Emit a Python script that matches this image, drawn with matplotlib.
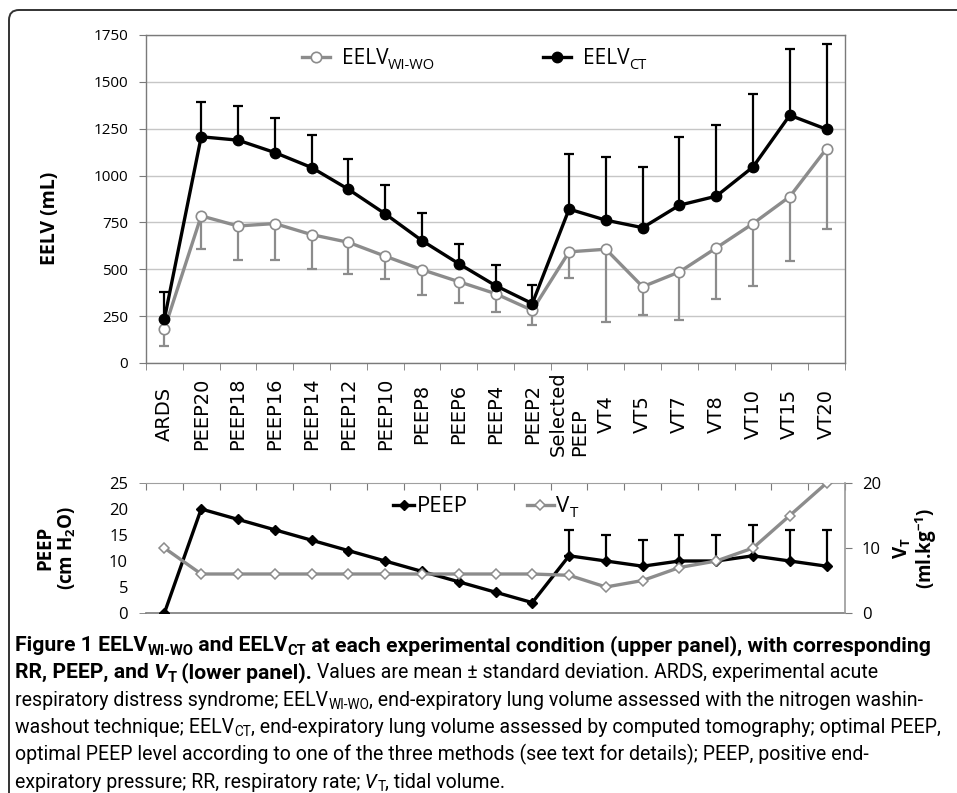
import numpy as np
import matplotlib
matplotlib.use("Agg")
import matplotlib.pyplot as plt
from matplotlib import font_manager as fm
from matplotlib.patches import FancyBboxPatch
from matplotlib.transforms import IdentityTransform

# ---------------- data ----------------
conditions = ['ARDS', 'PEEP20', 'PEEP18', 'PEEP16', 'PEEP14', 'PEEP12', 'PEEP10',
              'PEEP8', 'PEEP6', 'PEEP4', 'PEEP2', 'Selected\nPEEP', 'VT4', 'VT5',
              'VT7', 'VT8', 'VT10', 'VT15', 'VT20']
eelv_ct = [235, 1207, 1189, 1123, 1043, 927, 796, 653, 530, 413, 317,
           821, 762, 722, 842, 890, 1046, 1322, 1247]
eelv_ct_sd = [142, 185, 183, 183, 171, 162, 156, 146, 105, 110, 98,
              295, 336, 322, 366, 379, 390, 353, 456]
eelv_wiwo = [181, 785, 731, 744, 685, 644, 570, 498, 434, 370, 281,
             593, 607, 407, 486, 614, 744, 888, 1144]
eelv_wiwo_sd = [90, 178, 183, 192, 182, 169, 123, 133, 112, 99, 78,
                141, 388, 149, 255, 271, 331, 343, 427]
peep = [0, 20, 18, 16, 14, 12, 10, 8, 6, 4, 2, 11, 10, 9, 10, 10, 11, 10, 9]
peep_sd_from = 11   # error bars only from "Selected PEEP" on
peep_sd = [5, 5, 5, 5, 5, 6, 6, 7]
vt = [10, 6, 6, 6, 6, 6, 6, 6, 6, 6, 6, 5.8, 4, 5, 7, 8, 10, 15, 20]

upper_yticks = [0, 250, 500, 750, 1000, 1250, 1500, 1750]
lower_yticks = [0, 5, 10, 15, 20, 25]
right_yticks = [0, 10, 20]

# ---------------- style ----------------
W, H, DPI = 957, 793, 100
names = {f.name for f in fm.fontManager.ttflist}
CAP_FAMILY = 'Liberation Sans Narrow' if 'Liberation Sans Narrow' in names else 'Roboto'

plt.rcParams['font.family'] = ['Open Sans', 'DejaVu Sans']
plt.rcParams['mathtext.fontset'] = 'custom'
plt.rcParams['mathtext.rm'] = 'Open Sans'
plt.rcParams['mathtext.bf'] = 'Open Sans:bold'
plt.rcParams['mathtext.it'] = 'Open Sans:italic'

GRAY = '#8c8c8c'
SPINE = '#7a7a7a'

fig = plt.figure(figsize=(W / DPI, H / DPI), dpi=DPI)


def px_axes(l, t, r, b):
    return fig.add_axes([l / W, 1 - b / H, (r - l) / W, (b - t) / H])


n = len(conditions)
x = np.arange(n)
zeros = np.zeros(n)

# ---------------- upper panel ----------------
ax = px_axes(146, 35, 845, 363)
ax.errorbar(x, eelv_wiwo, yerr=[eelv_wiwo_sd, zeros], fmt='none', ecolor=GRAY,
            elinewidth=1.6, capsize=3.5, capthick=1.6, zorder=2)
l_wiwo, = ax.plot(x, eelv_wiwo, color=GRAY, lw=2.4, marker='o', ms=7.5,
                  mfc='white', mec=GRAY, mew=1.2, zorder=3)
ax.errorbar(x, eelv_ct, yerr=[zeros, eelv_ct_sd], fmt='none', ecolor='black',
            elinewidth=1.6, capsize=3.5, capthick=1.6, zorder=4)
l_ct, = ax.plot(x, eelv_ct, color='black', lw=2.4, marker='o', ms=7.5,
                mfc='black', mec='black', zorder=5)

ax.set_xlim(-0.5, n - 0.5)
ax.set_ylim(0, 1750)
ax.set_yticks(upper_yticks)
ax.tick_params(axis='y', length=5, color=SPINE, labelsize=11, pad=8)
ax.yaxis.grid(True, color='#c6c6c6', lw=1)
ax.set_axisbelow(True)
ax.set_xticks(x)
ax.set_xticklabels(conditions, rotation=90, va='center', ha='center',
                   fontsize=14, family='DejaVu Sans', multialignment='left')
ax.tick_params(axis='x', which='major', length=0, pad=36.5)
ax.set_xticks(np.arange(-0.5, n, 1.0), minor=True)
ax.tick_params(axis='x', which='minor', length=5, color=SPINE, direction='out')
for s in ax.spines.values():
    s.set_color(SPINE)
    s.set_linewidth(1.0)

fig.text(50 / W, 1 - 218 / H, 'EELV (mL)', rotation=90, ha='center', va='center',
         fontsize=14, fontweight='bold')

leg1 = ax.legend(handles=[l_wiwo], labels=['EELV'], loc='center left',
                 bbox_to_anchor=((302 - 146) / 699, (363 - 59) / 328),
                 frameon=False, fontsize=15, handlelength=1.35, handletextpad=0.55,
                 borderpad=0, borderaxespad=0)
ax.add_artist(leg1)
leg2 = ax.legend(handles=[l_ct], labels=['EELV'], loc='center left',
                 bbox_to_anchor=((543 - 146) / 699, (363 - 59) / 328),
                 frameon=False, fontsize=15, handlelength=1.35, handletextpad=0.55,
                 borderpad=0, borderaxespad=0)

# ---------------- lower panel ----------------
ax2 = px_axes(146, 483, 845, 613)
ax2r = ax2.twinx()
sel = slice(peep_sd_from, n)
ax2.errorbar(x[sel], peep[sel], yerr=[np.zeros(len(peep_sd)), peep_sd], fmt='none',
             ecolor='black', elinewidth=1.6, capsize=3.5, capthick=1.6, zorder=2)
l_peep, = ax2.plot(x, peep, color='black', lw=2.4, marker='D', ms=5,
                   mfc='black', mec='black', zorder=3)
l_vt, = ax2r.plot(x, vt, color=GRAY, lw=2.4, marker='D', ms=5,
                  mfc='white', mec=GRAY, mew=1.1, zorder=3)

ax2.set_xlim(-0.5, n - 0.5)
ax2.set_ylim(0, 25)
ax2.set_yticks(lower_yticks)
ax2.yaxis.remove_overlapping_locs = False
ax2.set_yticks([0, 25], minor=True)
ax2.tick_params(axis='y', which='major', length=0, labelsize=12, pad=13)
ax2.tick_params(axis='y', which='minor', length=5, color=SPINE)
ax2.set_xticks(np.arange(-0.5, n, 1.0))
ax2.tick_params(axis='x', which='major', top=True, bottom=False, labeltop=False,
                labelbottom=False, direction='in', length=5, color=SPINE)
ax2.spines['left'].set_visible(False)
ax2.spines['right'].set_visible(False)
ax2.spines['top'].set_color('#a0a0a0')
ax2.spines['bottom'].set_color(SPINE)
ax2.spines['bottom'].set_linewidth(1.2)

ax2r.set_ylim(0, 20)
ax2r.set_yticks(right_yticks)
ax2r.tick_params(axis='y', length=5, color=SPINE, labelsize=12, pad=7)
for k in ['left', 'top', 'bottom']:
    ax2r.spines[k].set_visible(False)
ax2r.spines['right'].set_color('#9a9a9a')
ax2r.spines['right'].set_linewidth(1.2)

fig.text(56 / W, 1 - 548 / H, 'PEEP\n(cm H$_\\mathbf{2}$O)', rotation=90, ha='center',
         va='center', fontsize=13.5, fontweight='bold', multialignment='center',
         linespacing=1.05)
fig.text(915 / W, 1 - 548 / H, 'V$_\\mathbf{T}$\n(ml.kg$^{\\mathbf{-1}}$)', rotation=90,
         ha='center', va='center', fontsize=13.5, fontweight='bold',
         multialignment='center', linespacing=1.05)

leg3 = ax2r.legend(handles=[l_peep], labels=['PEEP'], loc='center left',
                   bbox_to_anchor=((393 - 146) / 699, (613 - 507) / 130),
                   frameon=False, fontsize=16, handlelength=0.95, handletextpad=0.12,
                   borderpad=0, borderaxespad=0)
ax2r.add_artist(leg3)
leg4 = ax2r.legend(handles=[l_vt], labels=['V'], loc='center left',
                   bbox_to_anchor=((527 - 146) / 699, (613 - 507) / 130),
                   frameon=False, fontsize=16, handlelength=1.2, handletextpad=0.12,
                   borderpad=0, borderaxespad=0)

# ---------------- frame ----------------
frame = FancyBboxPatch((9, -40), 1000, (H - 10) + 40,
                       boxstyle='round,pad=0,rounding_size=10',
                       transform=IdentityTransform(), facecolor='none',
                       edgecolor='#333333', lw=1.4)
fig.add_artist(frame)

# ---------------- subscripts after legend texts ----------------
fig.canvas.draw()
renderer = fig.canvas.get_renderer()


def add_sub(text_artist, sub, size, shift=0.2):
    bb = text_artist.get_window_extent(renderer)
    prop = text_artist.get_fontproperties()
    d = renderer.get_text_width_height_descent('lp', prop, ismath=False)[2]
    base = bb.y0 + d
    em = prop.get_size_in_points() * DPI / 72
    fig.text(bb.x1 / W, (base - shift * em) / H, sub, fontsize=size,
             ha='left', va='baseline')


add_sub(leg1.get_texts()[0], 'WI-WO', 10.5)
add_sub(leg2.get_texts()[0], 'CT', 10.5)
add_sub(leg4.get_texts()[0], 'T', 11)

# ---------------- caption ----------------
cap_lines = [
    [("Figure 1 EELV", 'bold', 'normal', 0), ("WI-WO", 'bold', 'normal', 1),
     (" and EELV", 'bold', 'normal', 0), ("CT", 'bold', 'normal', 1),
     (" at each experimental condition (upper panel), with corresponding", 'bold', 'normal', 0)],
    [("RR, PEEP, and", 'bold', 'normal', 0), (" V", 'bold', 'italic', 0),
     ("T", 'bold', 'normal', 1), (" (lower panel).", 'bold', 'normal', 0),
     (" Values are mean \u00b1 standard deviation. ARDS, experimental acute", 'normal', 'normal', 0)],
    [("respiratory distress syndrome;", 'normal', 'normal', 0), (" EELV", 'normal', 'normal', 0),
     ("WI-WO", 'normal', 'normal', 1),
     (", end-expiratory lung volume assessed with the nitrogen washin-", 'normal', 'normal', 0)],
    [("washout technique;", 'normal', 'normal', 0), (" EELV", 'normal', 'normal', 0),
     ("CT", 'normal', 'normal', 1),
     (", end-expiratory lung volume assessed by computed tomography; optimal PEEP,", 'normal', 'normal', 0)],
    [("optimal PEEP level according to one of the three methods (see text for details); PEEP, positive end-",
      'normal', 'normal', 0)],
    [("expiratory pressure; RR, respiratory rate;", 'normal', 'normal', 0),
     (" V", 'normal', 'italic', 0), ("T", 'normal', 'normal', 1),
     (", tidal volume.", 'normal', 'normal', 0)],
]


def draw_rich(segs, x_px, base_top_px, sizes, measure=False):
    xc = x_px
    y = H - base_top_px
    made = []
    for txt, wgt, sty, sub in segs:
        size = sizes[wgt]
        fs = size * 0.7 if sub else size
        dy = -0.18 * size * DPI / 72 if sub else 0
        t = fig.text(xc / W, (y + dy) / H, txt, fontsize=fs, fontweight=wgt,
                     fontstyle=sty, family=CAP_FAMILY, ha='left', va='baseline')
        xc += t.get_window_extent(renderer).width
        made.append(t)
    if measure:
        for t in made:
            t.remove()
    return xc - x_px


ten = {'bold': 10, 'normal': 10}
w_bold = draw_rich(cap_lines[0], 15, 651, ten, measure=True)
w_reg = draw_rich(cap_lines[3], 15, 651, ten, measure=True)
cap_sizes = {'bold': 10 * 917 / w_bold, 'normal': 10 * 924 / w_reg}
for i, segs in enumerate(cap_lines):
    draw_rich(segs, 15, 651 + 27.3 * i, cap_sizes)

fig.savefig('out.png', dpi=DPI)
